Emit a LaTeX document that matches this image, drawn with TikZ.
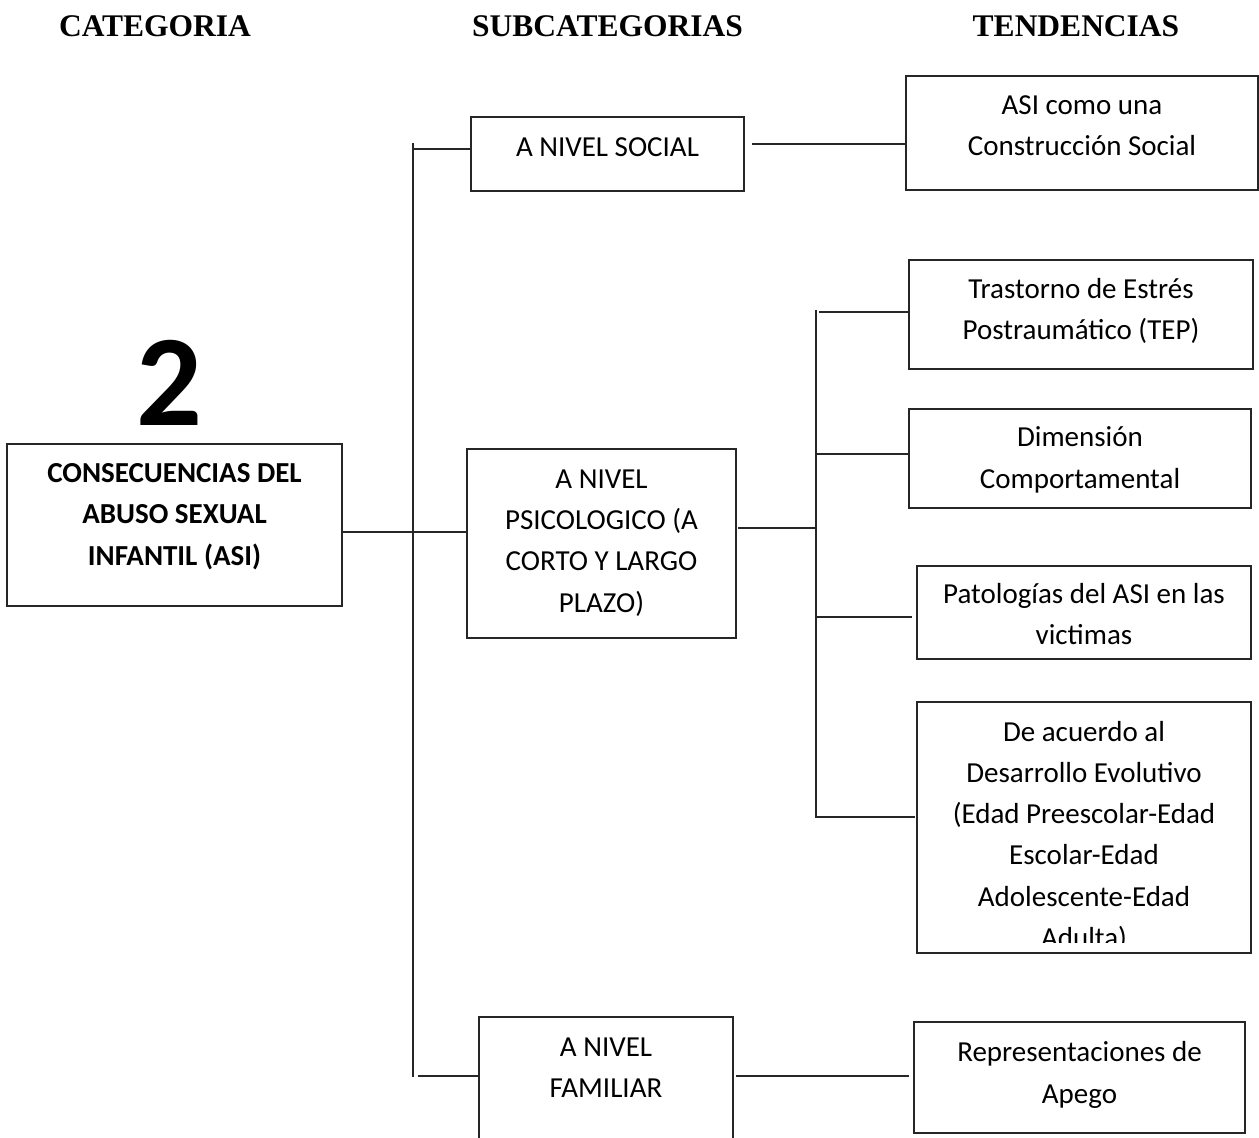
\documentclass[tikz,border=0pt]{standalone}
\usepackage{fontspec}
\setmainfont{Carlito}
\newfontfamily\headfont{Liberation Serif}
\begin{document}
\begin{tikzpicture}[x=1pt,y=-1pt,
  box/.style={draw=black!85, line width=1.3pt, inner sep=0pt, outer sep=0pt},
  txt/.style={align=center, inner sep=0pt, anchor=base, font=\fontsize{29}{41.3}\selectfont},
  btxt/.style={align=center, inner sep=0pt, anchor=base, font=\fontsize{29}{41.5}\selectfont\bfseries},
  head/.style={inner sep=0pt, anchor=base, font=\headfont\fontsize{31.5}{36}\selectfont\bfseries},
  conn/.style={draw=black!85, line width=1.3pt}]
\useasboundingbox (0,0) rectangle (1259,1138);
\clip (0,0) rectangle (1259,1138);

% headings
\node[head] (h1) at (155,36) {CATEGORIA};
\node[head] (h2) at (607.5,36) {SUBCATEGORIAS};
\node[head] (h3) at (1076,36) {TENDENCIAS};

% category (base anchor = baseline of the last line)
\node[inner sep=0pt, anchor=base, font=\fontsize{130}{130}\selectfont\bfseries] (num) at (169,425) {2};
\node[box, minimum width=335pt, minimum height=162pt] (cat) at (174.5,525) {};
\node[btxt] (catT) at (174.5,565) {CONSECUENCIAS DEL\\ABUSO SEXUAL\\INFANTIL (ASI)};

% subcategories
\node[box, minimum width=273pt, minimum height=74pt] (soc) at (607.5,154) {};
\node[txt] (socT) at (607.5,156) {A NIVEL SOCIAL};
\node[box, minimum width=269pt, minimum height=189pt] (psi) at (601.5,543.5) {};
\node[txt] (psiT) at (601.5,612) {A NIVEL\\PSICOLOGICO (A\\CORTO Y LARGO\\PLAZO)};
\node[box, minimum width=254pt, minimum height=125pt] (fam) at (606,1079.5) {};
\node[txt] (famT) at (606,1097.5) {A NIVEL\\FAMILIAR};

% tendencies
\node[box, minimum width=352pt, minimum height=114pt] (asi) at (1082,133) {};
\node[txt] (asiT) at (1082,155.5) {ASI como una\\Construcción Social};
\node[box, minimum width=344pt, minimum height=109pt] (tep) at (1081,314.5) {};
\node[txt] (tepT) at (1081,339.5) {Trastorno de Estrés\\Postraumático (TEP)};
\node[box, minimum width=342pt, minimum height=99pt] (dim) at (1080,458.5) {};
\node[txt] (dimT) at (1080,488) {Dimensión\\Comportamental};
\node[box, minimum width=334pt, minimum height=93pt] (pat) at (1084,612.5) {};
\node[txt] (patT) at (1084,644.5) {Patologías del ASI en las\\victimas};
\node[box, minimum width=334pt, minimum height=251pt] (des) at (1084,827.5) {};
\begin{scope}
\clip (917,700) rectangle (1251,942);
\node[txt] (desT) at (1084,947.5) {De acuerdo al\\Desarrollo Evolutivo\\(Edad Preescolar-Edad\\Escolar-Edad\\Adolescente-Edad\\Adulta)};
\end{scope}
\node[box, minimum width=331pt, minimum height=111pt] (rep) at (1079.5,1077.5) {};
\node[txt] (repT) at (1079.5,1103) {Representaciones de\\Apego};

% connector coordinates
\coordinate (v1top) at (413,143);
\coordinate (v1bot) at (413,1077);
\coordinate (jsoc) at (413,149);
\coordinate (jpsi) at (343,532);
\coordinate (jfam) at (418,1076);
\coordinate (sa) at (752,144);
\coordinate (psiout) at (738,528);
\coordinate (v2mid) at (816,528);
\coordinate (v2top) at (816,310);
\coordinate (v2bot) at (816,817);
\coordinate (jtep) at (819,312);
\coordinate (jdim) at (816,454);
\coordinate (jpat) at (816,617);
\coordinate (patin) at (912,617);
\coordinate (desin) at (915,817);
\coordinate (famout) at (736,1076);
\coordinate (repin) at (909,1076);

% connectors
\draw[conn] (v1top) -- (v1bot);
\draw[conn] (jsoc) -- (soc.west |- jsoc);
\draw[conn] (jpsi) -- (psi.west |- jpsi);
\draw[conn] (jfam) -- (fam.west |- jfam);
\draw[conn] (sa) -- (asi.west |- sa);
\draw[conn] (psiout) -- (v2mid);
\draw[conn] (v2top) -- (v2bot) -- (desin);
\draw[conn] (jtep) -- (tep.west |- jtep);
\draw[conn] (jdim) -- (dim.west |- jdim);
\draw[conn] (jpat) -- (patin);
\draw[conn] (famout) -- (repin);
\end{tikzpicture}
\end{document}
